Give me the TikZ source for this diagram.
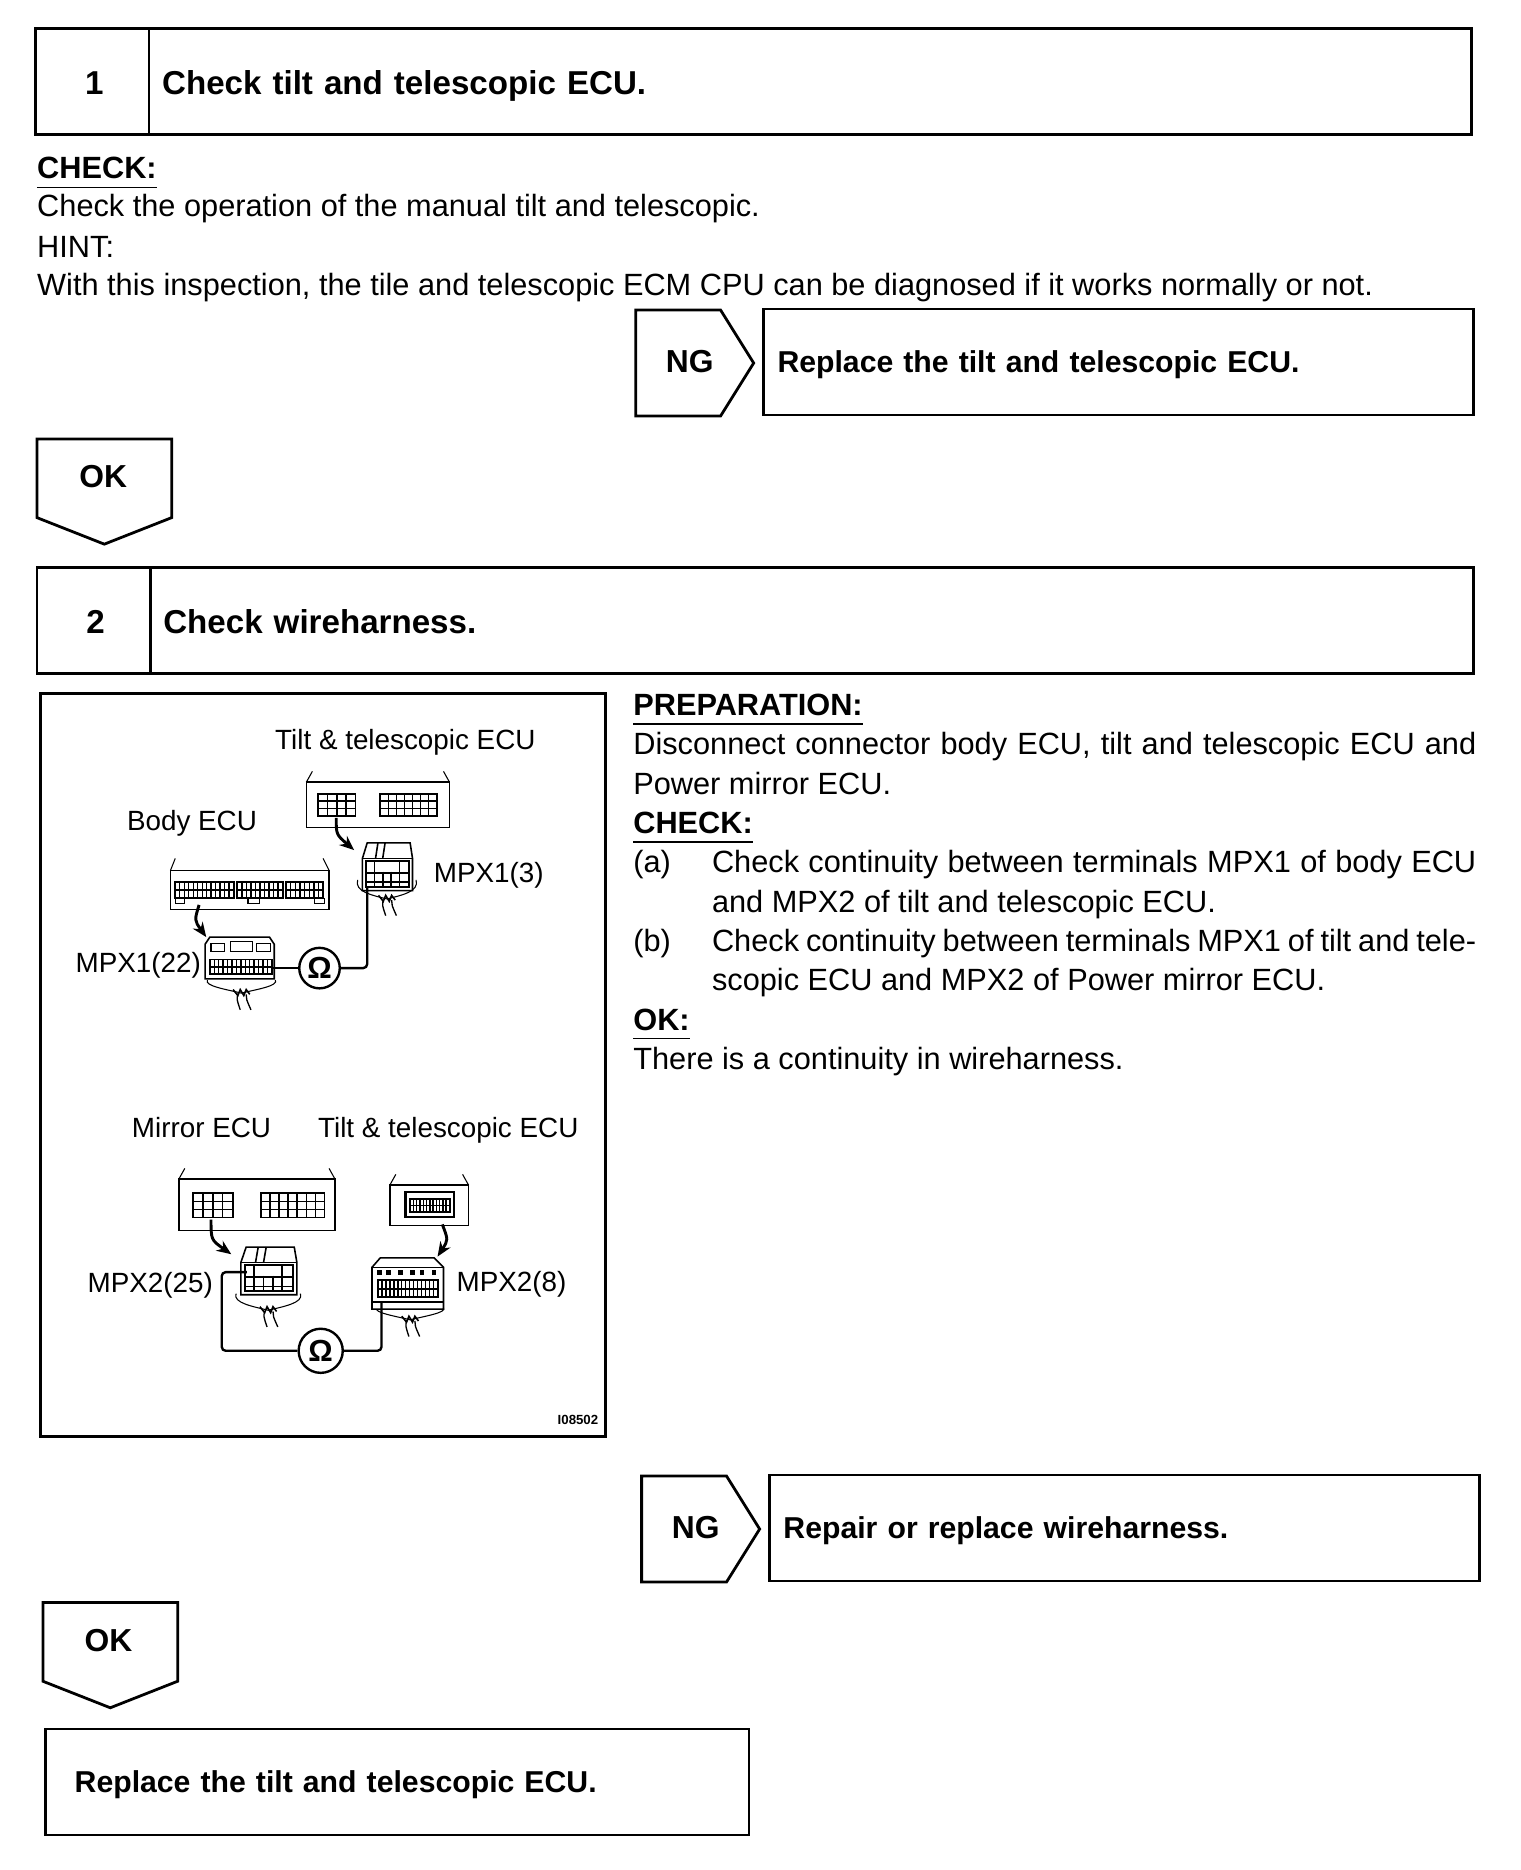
\documentclass[tikz,border=0pt]{standalone}
\usepackage{fontspec}
\setmainfont{Liberation Sans}
\usetikzlibrary{arrows.meta, positioning, shapes.symbols}
\def\unitpx{0.9pt}

% black connector face with white pin cells: x0, y0, x1, y1, columns, rows
\newcommand{\pinface}[6]{
  \fill[black] (#1,#2) rectangle (#3,#4);
  \pgfmathsetmacro{\cellw}{(#3-#1-2)/#5}
  \pgfmathsetmacro{\cellh}{(#4-#2-2)/#6}
  \foreach \i in {1,...,#5} \foreach \j in {1,...,#6}
    \fill[white] ({#1+1+(\i-1)*\cellw+0.6},{#2+1+(\j-1)*\cellh+0.6}) rectangle ({#1+1+\i*\cellw-0.6},{#2+1+\j*\cellh-0.6});
}
% harness behind a plug: left x, right x, start y, knot y
\newcommand{\harness}[4]{
  \pgfmathsetmacro{\knotx}{(#1+#2)/2}
  \draw[thinline] (#1,#3) .. controls (#1-3,#4-6) and (\knotx-12,#4-3) .. (\knotx,#4) .. controls (\knotx+12,#4-3) and (#2+3,#4-6) .. (#2,#3);
  \draw[thinline, line width=1.2pt] (\knotx-7,#4-3) -- (\knotx-3,#4+2) -- (\knotx-1,#4-3) -- (\knotx+2,#4+2) -- (\knotx+4,#4-3) -- (\knotx+7,#4+1);
  \draw[thinline, line width=1pt] (\knotx-3,#4+1) .. controls (\knotx-4,#4+5) .. (\knotx-1,#4+14);
  \draw[thinline, line width=1pt] (\knotx+4,#4+1) .. controls (\knotx+4,#4+5) .. (\knotx+8,#4+14);
}
% small plug: left x, top y, x scale
\newcommand{\plugsmall}[3]{
  \begin{scope}[shift={(#1,#2)},xscale=#3]
    \draw[ecu, fill=white] (0,13) -- (4,0) -- (40,0) -- (42,13) -- (42,40) -- (0,40) -- cycle;
    \draw[thinline] (0,13) -- (42,13);
    \draw[ecu] (13,0) -- (11,13) (19,0) -- (17,13);
    \draw[ecu] (3,15) rectangle (39,37) (10,15) -- (10,37) (17,24) -- (17,37) (24,24) -- (24,37) (31,15) -- (31,37) (3,25) -- (39,25) (3,33) -- (39,33);
  \end{scope}
}

\begin{document}
\begin{tikzpicture}[
  x=0.9pt, y=-0.9pt,
  outline/.style={draw, line width=2.1pt},
  headnum/.style={outline, outer sep=0pt, minimum width=95*\unitpx, minimum height=89*\unitpx, inner sep=0pt, text height=19.5pt, text depth=0pt, font=\fontsize{25}{28}\bfseries\selectfont},
  headbox/.style={outline, outer sep=0pt, anchor=west, minimum height=89*\unitpx, text width=1087*\unitpx, inner xsep=11*\unitpx, inner ysep=0pt, align=left, text height=20pt, text depth=1pt, font=\fontsize{25}{28}\bfseries\selectfont},
  resultbox/.style={outline, anchor=north west, minimum height=89*\unitpx, inner xsep=12*\unitpx, inner ysep=0pt, align=left, text height=17pt, text depth=0.8pt, font=\fontsize{22.8}{28}\bfseries\selectfont},
  ngtag/.style={outline, signal, signal to=east, signal pointer angle=116, anchor=west, minimum width=99*\unitpx, minimum height=89*\unitpx, inner sep=0pt},
  oktag/.style={outline, signal, signal to=south, signal pointer angle=137, anchor=north, minimum width=113*\unitpx, minimum height=66*\unitpx, inner sep=0pt},
  tagtext/.style={inner sep=0pt, font=\fontsize{24}{28}\bfseries\selectfont},
  txt/.style={anchor=base west, inner sep=0pt, font=\fontsize{23.2}{28}\selectfont},
  boldtxt/.style={anchor=base west, inner sep=0pt, font=\fontsize{23.2}{28}\bfseries\selectfont},
  rule/.style={line width=1.2pt},
  figtxt/.style={inner sep=0pt, text height=15.5pt, text depth=0.5pt, font=\fontsize{21}{24}\selectfont},
  ecu/.style={draw, line width=1.2pt},
  thinline/.style={draw, line width=0.8pt},
  wire/.style={line width=1.8pt, rounded corners=3pt},
  ohm/.style={draw, circle, line width=1.8pt, minimum size=34*\unitpx, inner sep=0pt, font=\fontsize{23}{24}\bfseries\selectfont},
  plugarrow/.style={-{Stealth[length=11pt, width=9pt]}, line width=2.2pt}
]
\useasboundingbox (0,0) rectangle (1275,1568.5);

% Step 1 header
\node[headnum] (numone) at (77.5,68.5) {\kern3pt 1};
\node[headbox] (titleone) at (numone.east) {Check tilt and telescopic ECU.};

% Step 1 text
\node[boldtxt] (checkone) at (31,150) {CHECK:};
\draw[rule] ([yshift=-6pt]checkone.south west) -- ([yshift=-6pt]checkone.south east);
\node[txt] (checktxt) at (31,182) {Check the operation of the manual tilt and telescopic.};
\node[txt] (hint) at (31,216) {HINT:};
\node[txt] (hinttxt) at (31,248) {With this inspection, the tile and telescopic ECM CPU can be diagnosed if it works normally or not.};

% Step 1 results
\node[ngtag] (ngone) at (532,304.5) {};
\node[tagtext] (ngonetxt) at (578.5,303) {NG};
\node[resultbox, minimum width=596*\unitpx, text width=572*\unitpx] (replaceone) at (639,258) {Replace the tilt and telescopic ECU.};
\node[oktag] (okone) at (87.5,367) {};
\node[tagtext] (okonetxt) at (86.5,400) {OK};

% Step 2 header
\node[headnum] (numtwo) at (78.5,520.5) {\kern3pt 2};
\node[headbox, text width=1088*\unitpx] (titletwo) at (numtwo.east) {Check wireharness.};

% Figure frame
\node[outline, anchor=north west, minimum width=474*\unitpx, minimum height=623*\unitpx] (frame) at (32.5,580.5) {};

% Tilt ECU, upper
\node[figtxt] (tiltlabel) at (340,620) {Tilt \& telescopic ECU};
\draw[ecu] (257,656) rectangle (377,694);
\draw[thinline] (257,656) -- (262,647) (377,656) -- (372,647);
\pinface{266}{665}{299}{685}{4}{3}
\pinface{318}{665}{367}{685}{7}{3}
\coordinate (tiltout) at (282,686);
\coordinate (tiltin) at (297,713);
\harness{300}{349}{738}{754}
\plugsmall{304}{707}{1}
\draw[plugarrow] (tiltout) .. controls (282,700) .. (tiltin);
\node[figtxt] (mpxa) at (410,732) {MPX1(3)};

% Body ECU
\node[figtxt] (bodylabel) at (161,688) {Body ECU};
\draw[ecu] (143,730) rectangle (276,763);
\draw[thinline] (143,730) -- (147,720) (276,730) -- (271,720);
\pinface{146}{739}{197}{754}{13}{2}
\pinface{198}{739}{238}{754}{10}{2}
\pinface{239}{739}{272}{754}{8}{2}
\draw[thinline] (147,754) rectangle (155,758) (208,754) rectangle (218,758) (264,754) rectangle (272,758);
\coordinate (bodyout) at (167,759);
\coordinate (bodyin) at (173,786);
\harness{174}{231}{822}{833}
\draw[ecu, fill=white] (172,792) -- (176,786) -- (226,786) -- (230,792) -- (230,821) -- (172,821) -- cycle;
\draw[thinline, fill=white] (177,791) rectangle (188,798) (193,790) rectangle (212,798) (215,791) rectangle (227,798);
\pinface{175}{804}{229}{818}{14}{2}
\draw[plugarrow] (bodyout) .. controls (163,772) .. (bodyin);
\node[figtxt] (mpxb) at (116,807) {MPX1(22)};

% Meter, upper
\node[ohm] (ohmone) at (268,812) {Ω};
\coordinate (pinb) at (228,812);
\coordinate (pina) at (308,744);
\draw[wire] (pinb) -- (ohmone);
\draw[wire] (ohmone) -| (pina);

% Mirror ECU
\node[figtxt] (mirrorlabel) at (169,946) {Mirror ECU};
\draw[ecu] (150,989) rectangle (281,1032);
\draw[thinline] (150,989) -- (155,980) (281,989) -- (276,980);
\pinface{161}{1000}{196}{1022}{4}{3}
\pinface{218}{1000}{273}{1022}{7}{3}
\coordinate (mirrorout) at (177,1023);
\coordinate (mirrorin) at (194,1052);
\harness{198}{252}{1085}{1099}
\plugsmall{202}{1046}{1.12}
\draw[plugarrow] (mirrorout) .. controls (177,1040) .. (mirrorin);
\node[figtxt] (mpxc) at (126,1076) {MPX2(25)};

% Tilt ECU, lower
\node[figtxt] (tiltlower) at (376,946) {Tilt \& telescopic ECU};
\draw[ecu] (327,994) rectangle (393,1028);
\draw[thinline] (327,994) -- (332,985) (393,994) -- (388,985);
\draw[line width=1.8pt] (340,1000) rectangle (381,1021);
\pinface{343}{1005}{378}{1017}{12}{2}
\coordinate (tiltlowout) at (371,1027);
\coordinate (tiltlowin) at (367,1054);
\harness{316}{372}{1097}{1107}
\draw[ecu, fill=white] (312,1063) -- (319,1055) -- (364,1055) -- (372,1063) -- (372,1098) -- (312,1098) -- cycle;
\draw[thinline] (312,1063) -- (372,1063);
\foreach \xmark in {318,326,336,346,354,364}
  \fill (\xmark-2,1065) rectangle (\xmark+2,1069);
\pinface{316}{1073}{368}{1089}{15}{2}
\fill (312,1091) rectangle (372,1093);
\draw[plugarrow] (tiltlowout) .. controls (376,1040) .. (tiltlowin);
\node[figtxt] (mpxd) at (429,1075) {MPX2(8)};

% Meter, lower
\node[ohm, minimum size=37*\unitpx] (ohmtwo) at (269,1133) {Ω};
\coordinate (pinc) at (207,1067);
\coordinate (pind) at (320,1093);
\draw[wire] (pinc) -- (186,1067) |- (ohmtwo.west);
\draw[wire] (ohmtwo.east) -| (pind);

\node[anchor=east, inner sep=0pt, font=\fontsize{10}{12}\bfseries\selectfont] (figid) at (502,1191) {I08502};

% Step 2 text
\node[boldtxt] (prep) at (531,600) {PREPARATION:};
\draw[rule] ([yshift=-6pt]prep.south west) -- ([yshift=-6pt]prep.south east);
\node[txt] (preptxta) at (531,633) {\makebox[636.3pt][s]{Disconnect connector body ECU, tilt and telescopic ECU and}};
\node[txt] (preptxtb) at (531,666) {Power mirror ECU.};
\node[boldtxt] (checktwo) at (531,699) {CHECK:};
\draw[rule] ([yshift=-6pt]checktwo.south west) -- ([yshift=-6pt]checktwo.south east);
\node[txt] (itema) at (531,732) {(a)};
\node[txt] (itematxt) at (597,732) {\makebox[576.9pt][s]{Check continuity between terminals MPX1 of body ECU}};
\node[txt] (itematxtb) at (597,765) {and MPX2 of tilt and telescopic ECU.};
\node[txt] (itemb) at (531,798) {(b)};
\node[txt] (itembtxt) at (597,798) {\makebox[576.9pt][s]{Check continuity between terminals MPX1 of tilt and tele-}};
\node[txt] (itembtxtb) at (597,831) {scopic ECU and MPX2 of Power mirror ECU.};
\node[boldtxt] (oknote) at (531,864) {OK:};
\draw[rule] ([yshift=-6pt]oknote.south west) -- ([yshift=-6pt]oknote.south east);
\node[txt] (oktxt) at (531,897) {There is a continuity in wireharness.};

% Step 2 results
\node[ngtag] (ngtwo) at (537,1282.5) {};
\node[tagtext] (ngtwotxt) at (583.5,1281) {NG};
\node[resultbox, minimum width=596*\unitpx, text width=572*\unitpx] (repair) at (644,1236) {Repair or replace wireharness.};
\node[oktag] (oktwo) at (92.5,1343) {};
\node[tagtext] (oktwotxt) at (91,1376) {OK};
\node[resultbox, minimum width=590*\unitpx, text width=541*\unitpx, inner xsep=24.5*\unitpx] (replacetwo) at (37,1449) {Replace the tilt and telescopic ECU.};
\end{tikzpicture}
\end{document}
